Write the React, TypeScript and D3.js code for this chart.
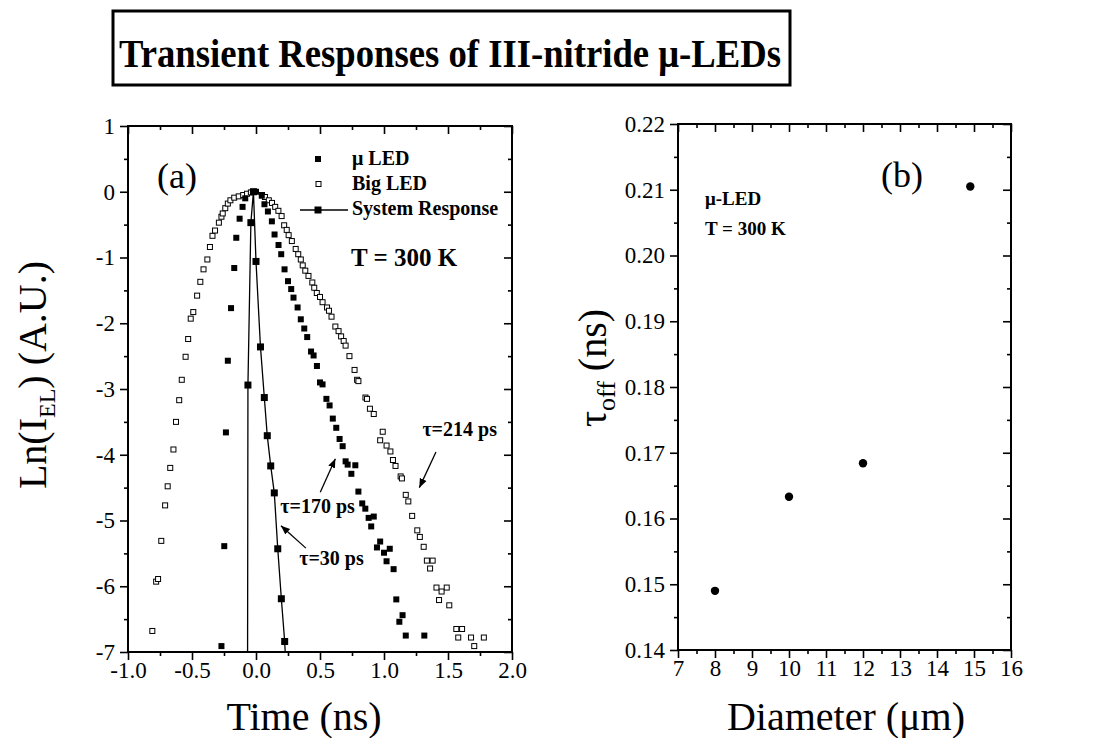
import React, { useEffect, useRef } from 'react';
import * as d3 from 'd3';

// (a) time in ns, ln of EL intensity
const bigLed: [number, number][] = [
	[-0.81, -6.68], [-0.78, -5.93], [-0.765, -5.89], [-0.74, -5.31], [-0.71, -4.77],
	[-0.69, -4.48], [-0.67, -4.20], [-0.645, -3.92], [-0.625, -3.50], [-0.60, -3.17],
	[-0.58, -2.86], [-0.55, -2.51], [-0.53, -2.24], [-0.51, -1.93], [-0.49, -1.83],
	[-0.46, -1.58], [-0.435, -1.37], [-0.41, -1.18], [-0.38, -1.03], [-0.36, -0.84],
	[-0.34, -0.67], [-0.32, -0.59], [-0.29, -0.47], [-0.27, -0.38], [-0.26, -0.33],
	[-0.24, -0.25], [-0.22, -0.18], [-0.20, -0.13], [-0.17, -0.09], [-0.135, -0.07],
	[-0.10, -0.05], [-0.07, -0.03], [-0.04, -0.01], [-0.02, 0.0],
	[0.047, -0.05], [0.07, -0.08], [0.10, -0.13], [0.125, -0.17], [0.15, -0.23],
	[0.175, -0.29], [0.20, -0.37], [0.22, -0.51], [0.24, -0.58], [0.255, -0.66],
	[0.28, -0.75], [0.31, -0.87], [0.33, -0.95], [0.35, -1.03], [0.365, -1.12],
	[0.385, -1.20], [0.41, -1.28], [0.44, -1.38], [0.455, -1.46], [0.475, -1.54],
	[0.50, -1.60], [0.52, -1.68], [0.555, -1.76], [0.57, -1.81], [0.59, -1.90],
	[0.62, -2.05], [0.645, -2.12], [0.665, -2.20], [0.685, -2.27], [0.70, -2.34],
	[0.73, -2.50], [0.77, -2.71], [0.79, -2.86], [0.80, -2.88], [0.855, -3.13],
	[0.867, -3.15], [0.89, -3.30], [0.92, -3.38], [0.99, -3.65], [0.97, -3.78],
	[1.02, -3.86], [1.05, -3.95], [1.07, -4.08], [1.09, -4.17], [1.13, -4.33],
	[1.14, -4.36], [1.17, -4.61], [1.19, -4.71], [1.22, -4.93], [1.26, -5.15],
	[1.28, -5.25], [1.31, -5.40], [1.335, -5.61], [1.38, -5.61], [1.36, -5.73],
	[1.41, -6.02], [1.45, -6.08], [1.49, -6.02], [1.43, -6.21], [1.51, -6.29],
	[1.565, -6.65], [1.61, -6.65], [1.58, -6.78], [1.68, -6.78], [1.78, -6.78],
	[1.705, -6.91],
];

const microLed: [number, number][] = [
	[-0.27, -6.91], [-0.248, -5.39], [-0.235, -3.66], [-0.22, -2.57], [-0.195, -1.77],
	[-0.17, -1.16], [-0.154, -0.70], [-0.128, -0.41], [-0.105, -0.23], [-0.084, -0.10],
	[0.0, 0.0], [0.045, -0.06], [0.066, -0.19], [0.093, -0.30], [0.124, -0.45],
	[0.145, -0.65], [0.176, -0.81], [0.197, -0.95], [0.223, -1.18], [0.25, -1.36],
	[0.275, -1.48], [0.293, -1.61], [0.325, -1.76], [0.35, -1.94], [0.377, -2.08],
	[0.40, -2.21], [0.43, -2.43], [0.45, -2.49], [0.476, -2.65], [0.50, -2.90],
	[0.52, -2.93], [0.55, -3.15], [0.575, -3.25], [0.60, -3.45], [0.627, -3.59],
	[0.653, -3.76], [0.677, -3.87], [0.70, -4.10], [0.716, -4.15], [0.776, -4.16],
	[0.745, -4.29], [0.80, -4.56], [0.83, -4.74], [0.854, -4.82], [0.88, -4.96],
	[0.92, -4.94], [0.90, -5.09], [0.97, -5.32], [0.945, -5.41], [1.0, -5.49],
	[1.045, -5.43], [1.02, -5.62], [1.075, -5.74], [1.096, -6.20], [1.145, -6.44],
	[1.12, -6.54], [1.17, -6.75], [1.315, -6.75],
];

const systemResponse: [number, number][] = [
	[-0.066, -7.4], [-0.063, -2.94], [-0.04, -0.47], [-0.02, 0.0], [0.0, -1.06],
	[0.035, -2.36], [0.065, -3.13], [0.088, -3.71], [0.115, -4.17], [0.143, -4.58],
	[0.17, -5.43], [0.198, -6.19], [0.224, -6.84], [0.236, -7.3],
];

// (b) tau_off vs diameter
const diameter = [8, 10, 12, 14.9];
const tauOff = [0.149, 0.1633, 0.1684, 0.2105];

const timeTicks = [-1.0, -0.5, 0.0, 0.5, 1.0, 1.5, 2.0];
const lnTicks = [1, 0, -1, -2, -3, -4, -5, -6, -7];
const diameterTicks = [7, 8, 9, 10, 11, 12, 13, 14, 15, 16];
const tauTicks = [0.14, 0.15, 0.16, 0.17, 0.18, 0.19, 0.20, 0.21, 0.22];

const annotations = [
	{ text: 'τ=214 ps', at: [1.30, -3.71], from: [1.406, -3.957], to: [1.276, -4.50] },
	{ text: 'τ=170 ps', at: [0.19, -4.88], from: [0.502, -4.57], to: [0.62, -4.06] },
	{ text: 'τ=30 ps', at: [0.338, -5.67], from: [0.39, -5.42], to: [0.195, -5.08] },
];

const SERIF = "'Liberation Serif', 'Times New Roman', serif";

function mids(t: number[]) {
	return t.slice(1).map((d, i) => (d + t[i]) / 2);
}

function drawFrame(svg: any, x: any, y: any, xt: number[], yt: number[], fx: (d: any) => string, fy: (d: any) => string) {
	const [x0, x1] = x.range();
	const [y0, y1] = y.range();
	const axes = [
		{ a: d3.axisBottom(x).tickValues(xt).tickFormat(fx).tickSize(8).tickPadding(2), tr: `translate(0,${y0})` },
		{ a: d3.axisBottom(x).tickValues(mids(xt)).tickFormat(() => '').tickSize(4), tr: `translate(0,${y0})` },
		{ a: d3.axisTop(x).tickValues(xt).tickFormat(() => '').tickSize(-8), tr: `translate(0,${y1})` },
		{ a: d3.axisTop(x).tickValues(mids(xt)).tickFormat(() => '').tickSize(-4), tr: `translate(0,${y1})` },
		{ a: d3.axisLeft(y).tickValues(yt).tickFormat(fy).tickSize(8).tickPadding(5), tr: `translate(${x0},0)` },
		{ a: d3.axisLeft(y).tickValues(mids(yt)).tickFormat(() => '').tickSize(4), tr: `translate(${x0},0)` },
		{ a: d3.axisRight(y).tickValues(yt).tickFormat(() => '').tickSize(-8), tr: `translate(${x1},0)` },
		{ a: d3.axisRight(y).tickValues(mids(yt)).tickFormat(() => '').tickSize(-4), tr: `translate(${x1},0)` },
	];
	axes.forEach(({ a, tr }) => {
		const g = svg.append('g').attr('transform', tr).call(a);
		g.select('.domain').remove();
		g.selectAll('line').attr('stroke', '#000').attr('stroke-width', 1.6);
		g.selectAll('text').attr('font-family', SERIF).attr('font-size', 23).attr('fill', '#000');
	});
	svg.append('rect')
		.attr('x', x0).attr('y', y1)
		.attr('width', x1 - x0).attr('height', y0 - y1)
		.attr('fill', 'none').attr('stroke', '#000').attr('stroke-width', 2);
}

export default function App() {
	const ref = useRef<SVGSVGElement>(null);

	useEffect(() => {
		const svg = d3.select(ref.current);
		svg.selectAll('*').remove();

		// title
		svg.append('rect').attr('x', 113).attr('y', 11).attr('width', 677).attr('height', 74)
			.attr('fill', 'none').attr('stroke', '#000').attr('stroke-width', 3);
		svg.append('text').attr('x', 119).attr('y', 67)
			.attr('font-family', SERIF).attr('font-weight', 'bold').attr('font-size', 41)
			.attr('textLength', 662).attr('lengthAdjust', 'spacingAndGlyphs')
			.text('Transient Responses of III-nitride μ-LEDs');

		const defs = svg.append('defs');
		defs.append('marker').attr('id', 'arrow').attr('viewBox', '0 0 10 10')
			.attr('refX', 10).attr('refY', 5).attr('markerWidth', 7).attr('markerHeight', 7)
			.attr('orient', 'auto')
			.append('path').attr('d', 'M0,1 L10,5 L0,9 Z').attr('fill', '#000');
		defs.append('clipPath').attr('id', 'clipA')
			.append('rect').attr('x', 128).attr('y', 126).attr('width', 384).attr('height', 526);

		// ---- panel (a)
		const xA = d3.scaleLinear().domain([-1, 2]).range([128, 512]);
		const yA = d3.scaleLinear().domain([-7, 1]).range([652, 126]);
		drawFrame(svg, xA, yA, timeTicks, lnTicks, (d) => (+d).toFixed(1), (d) => String(d));

		const plotA = svg.append('g').attr('clip-path', 'url(#clipA)');
		const line = d3.line<[number, number]>().x((d) => xA(d[0])).y((d) => yA(d[1]));
		plotA.append('path').datum(systemResponse).attr('d', line)
			.attr('fill', 'none').attr('stroke', '#000').attr('stroke-width', 1.3);
		plotA.selectAll('rect.big').data(bigLed).enter().append('rect').attr('class', 'big')
			.attr('x', (d) => xA(d[0]) - 2.5).attr('y', (d) => yA(d[1]) - 2.5)
			.attr('width', 5).attr('height', 5)
			.attr('fill', '#fff').attr('stroke', '#000').attr('stroke-width', 1);
		plotA.selectAll('rect.micro').data(microLed).enter().append('rect').attr('class', 'micro')
			.attr('x', (d) => xA(d[0]) - 3).attr('y', (d) => yA(d[1]) - 3)
			.attr('width', 6).attr('height', 6).attr('fill', '#000');
		plotA.selectAll('rect.sys').data(systemResponse).enter().append('rect').attr('class', 'sys')
			.attr('x', (d) => xA(d[0]) - 3.5).attr('y', (d) => yA(d[1]) - 3.5)
			.attr('width', 7).attr('height', 7).attr('fill', '#000');

		annotations.forEach((a) => {
			svg.append('text').attr('x', xA(a.at[0])).attr('y', yA(a.at[1]))
				.attr('font-family', SERIF).attr('font-weight', 'bold').attr('font-size', 20)
				.text(a.text);
			svg.append('line')
				.attr('x1', xA(a.from[0])).attr('y1', yA(a.from[1]))
				.attr('x2', xA(a.to[0])).attr('y2', yA(a.to[1]))
				.attr('stroke', '#000').attr('stroke-width', 1.3).attr('marker-end', 'url(#arrow)');
		});

		svg.append('text').attr('x', 157).attr('y', 188)
			.attr('font-family', SERIF).attr('font-size', 36).text('(a)');

		// legend
		const leg = svg.append('g').attr('font-family', SERIF).attr('font-weight', 'bold').attr('font-size', 20);
		leg.append('rect').attr('x', 315).attr('y', 156).attr('width', 6).attr('height', 6).attr('fill', '#000');
		leg.append('text').attr('x', 352).attr('y', 165).text('μ LED');
		leg.append('rect').attr('x', 316).attr('y', 181.5).attr('width', 5).attr('height', 5)
			.attr('fill', '#fff').attr('stroke', '#000');
		leg.append('text').attr('x', 352).attr('y', 190).text('Big LED');
		leg.append('line').attr('x1', 300).attr('x2', 348).attr('y1', 210).attr('y2', 210)
			.attr('stroke', '#000').attr('stroke-width', 1.3);
		leg.append('rect').attr('x', 314.5).attr('y', 206.5).attr('width', 7).attr('height', 7).attr('fill', '#000');
		leg.append('text').attr('x', 352).attr('y', 215).text('System Response');
		svg.append('text').attr('x', 351).attr('y', 266)
			.attr('font-family', SERIF).attr('font-weight', 'bold').attr('font-size', 25).text('T = 300 K');

		svg.append('text').attr('x', 304).attr('y', 730).attr('text-anchor', 'middle')
			.attr('font-family', SERIF).attr('font-size', 40).text('Time (ns)');
		const yl = svg.append('text').attr('transform', 'translate(46,375) rotate(-90)')
			.attr('text-anchor', 'middle').attr('font-family', SERIF).attr('font-size', 40);
		yl.append('tspan').text('Ln(I');
		yl.append('tspan').attr('font-size', 24).attr('dy', 9).text('EL');
		yl.append('tspan').attr('dy', -9).text(') (A.U.)');

		// ---- panel (b)
		const xB = d3.scaleLinear().domain([7, 16]).range([678, 1011]);
		const yB = d3.scaleLinear().domain([0.14, 0.22]).range([650, 124]);
		drawFrame(svg, xB, yB, diameterTicks, tauTicks, (d) => String(d), (d) => (+d).toFixed(2));

		svg.selectAll('circle.tau').data(diameter).enter().append('circle').attr('class', 'tau')
			.attr('cx', (d) => xB(d)).attr('cy', (d, i) => yB(tauOff[i]))
			.attr('r', 4.2).attr('fill', '#000');

		svg.append('text').attr('x', 881).attr('y', 187)
			.attr('font-family', SERIF).attr('font-size', 36).text('(b)');
		svg.append('text').attr('x', 705).attr('y', 205)
			.attr('font-family', SERIF).attr('font-weight', 'bold').attr('font-size', 19).text('μ-LED');
		svg.append('text').attr('x', 705).attr('y', 235)
			.attr('font-family', SERIF).attr('font-weight', 'bold').attr('font-size', 19).text('T = 300 K');

		svg.append('text').attr('x', 846).attr('y', 730).attr('text-anchor', 'middle')
			.attr('font-family', SERIF).attr('font-size', 40).text('Diameter (μm)');
		const yr = svg.append('text').attr('transform', 'translate(606,368) rotate(-90)')
			.attr('text-anchor', 'middle').attr('font-family', SERIF).attr('font-size', 40);
		yr.append('tspan').text('τ');
		yr.append('tspan').attr('font-size', 26).attr('dy', 9).text('off');
		yr.append('tspan').attr('dy', -9).text(' (ns)');
	}, []);

	return (
		<svg ref={ref} width={1103} height={738}
			style={{ position: 'absolute', left: 0, top: 0, display: 'block', background: '#fff' }} />
	);
}
